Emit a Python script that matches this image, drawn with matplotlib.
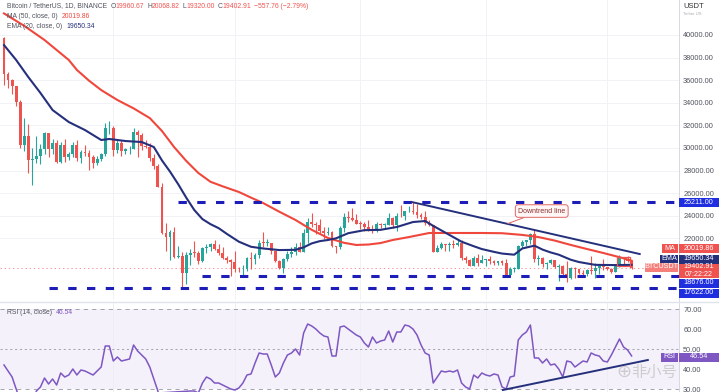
import matplotlib.pyplot as plt
from matplotlib.patches import Rectangle
from matplotlib.lines import Line2D

W, H = 719, 392

# daily candles, 5 May - 7 Oct
opens = [39690, 36550, 36010, 35470, 34060, 30300, 31020, 28940, 29050, 29280,
         29860, 31300, 29900, 30420, 28710, 30300, 29200, 29430, 30300, 29100,
         29650, 29540, 29200, 28630, 29030, 29470, 31720, 31790, 29800, 30450,
         29700, 29860, 29900, 31370, 31130, 30200, 30110, 29090, 28420, 26570,
         22490, 22130, 22580, 20380, 20470, 18970, 20550, 20720, 20710, 19980,
         21100, 21230, 21500, 21030, 20730, 20280, 20100, 19930, 19300, 19250,
         19300, 20230, 20180, 20550, 21620, 21590, 21590, 20850, 19960, 19330,
         20210, 20580, 20830, 21200, 20790, 22430, 23400, 23230, 23150, 22680,
         22450, 22580, 21310, 21250, 22950, 23850, 23780, 23640, 23290, 23270,
         22980, 22820, 22620, 23310, 23170, 23180, 23810, 23150, 23950, 23940,
         24400, 24440, 24300, 24100, 23850, 23340, 23190, 20830, 21140, 21520,
         21400, 21530, 21370, 21560, 20240, 20040, 19550, 20290, 19800, 20050,
         20130, 19950, 19830, 20000, 19800, 18790, 19290, 19320, 21360, 21650,
         21830, 22400, 20170, 20230, 19700, 19800, 20110, 19420, 19540, 18880,
         18480, 19400, 19300, 18930, 18800, 19220, 19080, 19410, 19590, 19420,
         19310, 19060, 19620, 20340, 20160, 19960.67]
highs = [39850, 36680, 36130, 35500, 34240, 32660, 32160, 30030, 31080, 30330,
         31410, 31300, 30780, 30700, 30540, 30770, 29650, 30480, 30680, 29850,
         30220, 29850, 29400, 29250, 29550, 32220, 32400, 31980, 30690, 30680,
         29950, 30170, 31760, 31550, 31330, 30700, 30400, 29440, 28550, 26900,
         23360, 22770, 22980, 21360, 20770, 20800, 21080, 21720, 20880, 21230,
         21520, 21600, 21870, 21520, 21200, 20440, 20180, 20870, 19430, 19650,
         20370, 20750, 20660, 21840, 22520, 21950, 21620, 20870, 20050, 20250,
         20880, 21200, 21560, 21680, 22780, 23800, 24280, 23420, 23750, 22990,
         23020, 22660, 21350, 23110, 24200, 24440, 24670, 24190, 23510, 23460,
         23640, 23220, 23460, 23350, 23380, 24240, 23920, 24230, 24920, 24450,
         24890, 25211, 25050, 24250, 24450, 23600, 23200, 21380, 21690, 21520,
         21680, 21820, 21820, 21880, 20400, 20140, 20400, 20580, 20490, 20210,
         20440, 20060, 20000, 20060, 20180, 19460, 19460, 21450, 21810, 21850,
         22490, 22800, 20550, 20330, 19890, 20190, 20110, 19690, 19630, 19950,
         19490, 19500, 19320, 19180, 19320, 20390, 19790, 19650, 20190, 19480,
         19400, 19720, 20480, 20360, 20460, 20068.82]
lows = [35560, 35260, 34780, 33710, 30030, 29730, 27785, 26700, 28700, 28580,
        29480, 29190, 29460, 28650, 28700, 28730, 28950, 29230, 28860, 28650,
        29290, 28020, 28260, 28450, 28850, 29300, 31210, 29300, 29570, 29280,
        29450, 29480, 29880, 29220, 29850, 29950, 28850, 28100, 26560, 22400,
        20850, 20080, 20230, 20230, 17622, 17960, 19650, 20350, 19770, 19890,
        20720, 20900, 21000, 20500, 20200, 19850, 18630, 18980, 18980, 18780,
        19070, 19300, 19760, 20240, 21200, 21320, 20650, 19880, 19240, 18910,
        19980, 20380, 20480, 20760, 20760, 21580, 23000, 22340, 22500, 21950,
        22260, 21250, 20710, 21040, 22580, 23410, 23500, 23230, 22850, 22650,
        22690, 22430, 22590, 22920, 22850, 23150, 22880, 22680, 23850, 23600,
        24300, 24180, 23770, 23700, 23180, 23100, 20780, 20760, 21060, 20890,
        20890, 21160, 21310, 20110, 19810, 19550, 19550, 19540, 19800, 19560,
        19750, 19650, 19600, 19630, 18680, 18540, 19010, 19300, 21110, 21350,
        21540, 19860, 19620, 19500, 19320, 19740, 19360, 18230, 18750, 18130,
        18360, 18530, 18810, 18630, 18680, 18810, 18470, 18850, 19160, 19160,
        18920, 19000, 19500, 19730, 19860, 19320]
closes = [36550, 36010, 35470, 34060, 30300, 31020, 28940, 29050, 29280, 29860,
          31300, 29900, 30420, 28710, 30300, 29200, 29430, 30300, 29100, 29650,
          29540, 29200, 28630, 29030, 29470, 31720, 31790, 29800, 30450, 29700,
          29860, 29900, 31370, 31130, 30200, 30110, 29090, 28420, 26570, 22490,
          22130, 22580, 20380, 20470, 18970, 20550, 20720, 20710, 19980, 21100,
          21230, 21500, 21030, 20730, 20280, 20100, 19930, 19300, 19250, 19300,
          20230, 20180, 20550, 21620, 21590, 21590, 20850, 19960, 19330, 20210,
          20580, 20830, 21200, 20790, 22430, 23400, 23230, 23150, 22680, 22450,
          22580, 21310, 21250, 22950, 23850, 23780, 23640, 23290, 23270, 22980,
          22820, 22620, 23310, 23170, 23180, 23810, 23150, 23950, 23940, 24400,
          24440, 24300, 24100, 23850, 23340, 23190, 20830, 21140, 21520, 21400,
          21530, 21370, 21560, 20240, 20040, 19550, 20290, 19800, 20050, 20130,
          19950, 19830, 20000, 19800, 18790, 19290, 19320, 21360, 21650, 21830,
          22400, 20170, 20230, 19700, 19800, 20110, 19420, 19540, 18880, 18480,
          19400, 19300, 18930, 18800, 19220, 19080, 19410, 19590, 19420, 19310,
          19060, 19620, 20340, 20160, 19960.67, 19402.91]

# MA(50) and EMA(20) read at some candles
ma_idx = [0, 5, 10, 16, 18, 21, 24, 28, 32, 36, 39, 42, 45, 48, 51, 54, 58, 61,
          64, 68, 72, 76, 80, 84, 87, 90, 93, 96, 100, 105, 112, 118, 123, 128,
          132, 136, 140, 144, 148, 152, 155]
ma_val = [41900, 40800, 39550, 37780, 36900, 35950, 35120, 34240, 33500, 32640,
          31500, 30080, 28850, 27780, 27000, 26600, 26100, 25600, 25120, 24350,
          23620, 22750, 22030, 21600, 21410, 21450, 21580, 21850, 22110, 22470,
          22470, 22470, 22450, 22300, 22110, 21800, 21410, 21050, 20700, 20330,
          20020]
ema_idx = [0, 3, 6, 9, 12, 16, 20, 24, 26, 30, 34, 37, 39, 41, 43, 45, 47, 49,
           51, 53, 55, 58, 61, 64, 68, 72, 74, 76, 78, 80, 82, 85, 89, 93, 97,
           101, 104, 106, 109, 113, 116, 118, 121, 123, 126, 128, 131, 133, 135,
           137, 140, 142, 146, 151, 155]
ema_val = [39100, 37780, 36270, 34860, 33350, 32290, 31580, 30700, 30790, 30610,
           30520, 30080, 28900, 27900, 26800, 25600, 24500, 23700, 23250, 22900,
           22400, 21700, 21250, 21100, 20960, 20980, 21200, 21550, 21750, 21850,
           22000, 22450, 22720, 22750, 23000, 23440, 23530, 23100, 22500, 21700,
           21300, 21050, 20800, 20650, 20550, 21100, 21350, 21000, 20750, 20550,
           20100, 19900, 19650, 19630, 19650]

rsi_val = [42, 39, 36, 30, 24, 27, 22, 23, 29, 31,
           35.5, 32.5, 35, 32, 38, 36, 37, 40, 37, 39.5,
           39, 38, 37, 39, 41, 51.5, 51.5, 44, 46, 44,
           44.5, 45, 52, 49, 47, 45, 41, 35, 29, 20,
           19, 21, 18, 19, 16, 28, 29, 29, 28, 33,
           36, 35, 33, 33, 32, 31, 30, 29.5, 30.5, 33,
           37, 37.5, 43, 48, 47.5, 47.5, 42, 36, 38, 43,
           47, 48, 50, 47, 58, 62.5, 61.5, 60, 58, 56.5,
           56, 46.5, 46.5, 61, 61.5, 60, 58.5, 57, 56, 53,
           51, 56, 53, 54, 54.5, 59, 53.5, 58.5, 58.5, 62,
           61.5, 60, 57, 52, 48, 47, 33, 36, 39, 38.5,
           39, 38.5, 39.5, 33, 31, 30, 37, 35.5, 38, 37,
           36.5, 37.5, 37, 31, 30, 36, 36.5, 54.5, 57, 58.5,
           62, 45.5, 45.5, 43, 45, 42, 42.5, 40, 36, 44,
           43.5, 41, 42.5, 44, 43.5, 48, 47, 46.5, 44, 43.5,
           47, 51, 55, 51, 49.5, 46.54]

levels = [25211.00, 18676.00, 17622.00]
level_start = [43, 49, 11]
trend_idx = [100.7, 157]
trend_val = [25211, 20609]
rsi_trend_idx = [123.2, 159]
rsi_trend_val = [29.5, 44.5]

price_ticks = [22000, 24000, 26000, 28000, 30000, 32000, 34000, 36000, 38000, 40000]
rsi_ticks = [30, 40, 50, 60, 70]
month_idx = [27, 57, 88, 119, 149]

GREEN = '#26a69a'
RED = '#ef5350'
MA_C = '#f0473d'
EMA_C = '#25307c'
LVL_C = '#1d1db8'
LBL_BLUE = '#1f2fe0'
RSI_C = '#7e57c2'
GRAY = '#50535e'

plt.rcParams['font.family'] = ['Liberation Sans', 'DejaVu Sans']
plt.rcParams['lines.scale_dashes'] = False

fig = plt.figure(figsize=(W / 100, H / 100), dpi=100)
ax = fig.add_axes([0, 1 - 300 / H, 679 / W, 300 / H])
ax2 = fig.add_axes([0, 0, 679 / W, (H - 303) / H])

xs = list(range(len(closes)))
cols = [GREEN if c >= o else RED for o, c in zip(opens, closes)]
ax.vlines(xs, lows, highs, colors=cols, lw=0.8, zorder=3)
ax.bar(xs, [max(abs(c - o), 60) for o, c in zip(opens, closes)],
       bottom=[min(o, c) for o, c in zip(opens, closes)],
       width=0.7, color=cols, lw=0, zorder=3)

ax.plot(ma_idx, ma_val, color=MA_C, lw=1.5, zorder=4, solid_joinstyle='round')
ax.plot(ema_idx, ema_val, color=EMA_C, lw=1.5, zorder=4, solid_joinstyle='round')

for lv, st in zip(levels, level_start):
    ax.hlines(lv, st, 166.7, colors=LVL_C, lw=2.2, linestyles=(0, (6, 7.5)), zorder=5)
ax.axhline(closes[-1], color=RED, lw=0.6, ls=(0, (1, 2)), alpha=0.7, zorder=2)

ax.plot(trend_idx, trend_val, color=EMA_C, lw=1.4, zorder=5)
ax.add_patch(Rectangle((151.5, 19550), 3, 800, fill=False, ec=RED, lw=0.9, zorder=5))
ax.annotate('Downtrend line', xy=(124.4, 23300), xytext=(132.8, 24414),
            ha='center', va='center', fontsize=5, color='#8b2c2c',
            bbox=dict(boxstyle='round,pad=0.4', fc='#fff7f6', ec='#e06666', lw=0.7),
            arrowprops=dict(arrowstyle='-', color='#e06666', lw=0.7, shrinkA=0, shrinkB=0),
            zorder=6)

ax.set_xlim(-0.99, 166.7)
ax.set_ylim(16540, 43090)
ax.set_yticks(price_ticks)
ax.set_yticklabels([f'{t:.2f}' for t in price_ticks])
ax.set_xticks(month_idx)
ax.grid(True, color='#f0f2f6', lw=0.7, zorder=0)
ax.tick_params(axis='y', length=0, pad=3, labelsize=5.3, labelcolor=GRAY,
               left=False, labelleft=False, labelright=True)
ax.tick_params(axis='x', length=0, labelbottom=False)
for s in ax.spines.values():
    s.set_visible(False)

# RSI pane
ax2.axhspan(30, 70, color=RSI_C, alpha=0.08, lw=0)
for lv, ls in [(70, (0, (3, 3))), (50, (0, (1.5, 2))), (30, (0, (3, 3)))]:
    ax2.axhline(lv, color='#9598a1', lw=0.6, ls=ls)
ax2.plot(xs, rsi_val, color=RSI_C, lw=1.1, zorder=3)
ax2.plot(rsi_trend_idx, rsi_trend_val, color=EMA_C, lw=1.4, zorder=4)
ax2.set_xlim(-0.99, 166.7)
ax2.set_ylim(28.5, 73)
ax2.set_yticks(rsi_ticks)
ax2.set_yticklabels([f'{t:.2f}' for t in rsi_ticks])
ax2.set_xticks(month_idx)
ax2.grid(True, axis='x', color='#eceef3', lw=0.7, zorder=0)
ax2.tick_params(axis='y', length=0, pad=3, labelsize=5.3, labelcolor=GRAY,
                left=False, labelleft=False, labelright=True)
ax2.tick_params(axis='x', length=0, labelbottom=False)
for s in ax2.spines.values():
    s.set_visible(False)

# separators
fig.add_artist(Line2D([679 / W] * 2, [0, 1], color='#d6d9e0', lw=0.7))
fig.add_artist(Line2D([0, 1], [1 - 301.5 / H] * 2, color='#e0e3eb', lw=1.0))


def box(x0, x1, yc, h, fc, text, tc='white', size=5.2):
    fig.add_artist(Rectangle((x0 / W, 1 - (yc + h / 2) / H), (x1 - x0) / W, h / H,
                             fc=fc, ec='none', zorder=10))
    fig.text((x0 + x1) / 2 / W, 1 - yc / H, text, color=tc, fontsize=size,
             ha='center', va='center', zorder=11)


y_top = H - ax.transData.transform((0, levels[0]))[1]
box(679, 719, y_top, 9, LBL_BLUE, '25211.00')
box(662, 678, 249, 9, RED, 'MA')
box(679, 719, 249, 9, RED, '20019.86')
box(660, 678, 259, 9, EMA_C, 'EMA')
box(679, 719, 259, 9, EMA_C, '19650.34')
box(645, 678, 267, 9, '#f47f7b', 'BTCUSDT')
box(679, 719, 270.5, 14, RED, '')
fig.text(699 / W, 1 - 267 / H, '19402.91', color='white', fontsize=5.2, ha='center', va='center', zorder=11)
fig.text(699 / W, 1 - 274 / H, '07:22:22', color='white', fontsize=5.2, ha='center', va='center', zorder=11)
box(679, 719, 283, 9, LBL_BLUE, '18676.00')
box(679, 719, 293, 9, LBL_BLUE, '17622.00')
box(661, 678, 357, 9, RSI_C, 'RSI')
box(679, 719, 357, 9, RSI_C, '46.54')

fig.text(683 / W, 1 - 7 / H, 'USDT', color='#333333', fontsize=5.5, va='center')
fig.text(683 / W, 1 - 14 / H, 'Tether US', color='#aaaaaa', fontsize=3, va='center')

# legends
renderer = fig.canvas.get_renderer()


def chain(parts, x, y, size=4.9):
    for s, c, gap in parts:
        t = fig.text(x / W, 1 - y / H, s, color=c, fontsize=size, va='center', ha='left')
        x += t.get_window_extent(renderer).width + gap


chain([('Bitcoin / TetherUS, 1D, BINANCE', GRAY, 3),
       ('O', GRAY, 0), ('19960.67', RED, 3),
       ('H', GRAY, 0), ('20068.82', RED, 3),
       ('L', GRAY, 0), ('19320.00', RED, 3),
       ('C', GRAY, 0), ('19402.91', RED, 3),
       ('\u2212557.76 (\u22122.79%)', RED, 0)], 7, 6)
chain([('MA (50, close, 0)', GRAY, 4), ('20019.86', MA_C, 0)], 7, 16)
chain([('EMA (20, close, 0)', GRAY, 4), ('19650.34', EMA_C, 0)], 7, 26)
chain([('RSI (14, close)', GRAY, 4), ('46.54', RSI_C, 0)], 7, 312)

# watermark
fig.text(624 / W, 1 - 372 / H, '\u2295', color='#bdbdbd', fontsize=13, ha='center', va='center', alpha=0.7, zorder=12)
fig.text(654 / W, 1 - 372 / H, '非小号', color='#bdbdbd', fontsize=11, ha='center', va='center',
         alpha=0.7, family=['Noto Sans CJK SC', 'DejaVu Sans'], zorder=12)

fig.savefig('out.png', dpi=100)
